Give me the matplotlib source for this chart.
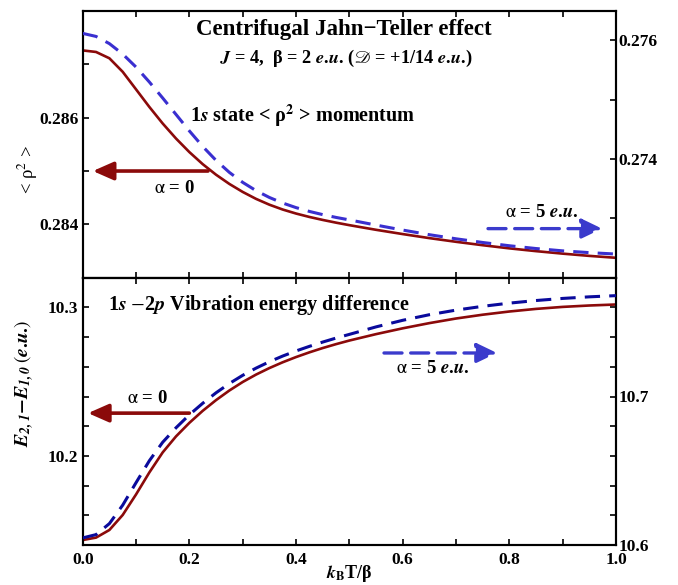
import matplotlib
matplotlib.use("Agg")
import matplotlib.pyplot as plt
import numpy as np

plt.rcParams['font.family'] = ['Liberation Serif', 'DejaVu Serif']
plt.rcParams['mathtext.fontset'] = 'stix'

# ---- data ----
kT = [0.0, 0.025, 0.05, 0.075, 0.1, 0.125, 0.15, 0.175, 0.2, 0.225, 0.25, 0.275,
      0.3, 0.325, 0.35, 0.375, 0.4, 0.425, 0.45, 0.475, 0.5,
      0.55, 0.6, 0.65, 0.7, 0.75, 0.8, 0.85, 0.9, 0.95, 1.0]

rho2_a0 = [0.287261, 0.287232, 0.287114, 0.286860, 0.286531, 0.286201, 0.285891,
           0.285609, 0.285355, 0.285129, 0.284931, 0.284758, 0.284608, 0.284478,
           0.284369, 0.284278, 0.284203, 0.284139, 0.284083, 0.284032, 0.283985,
           0.283898, 0.283818, 0.283742, 0.283673, 0.283609, 0.283550, 0.283498,
           0.283451, 0.283409, 0.283373]
rho2_a5 = [0.276113, 0.276062, 0.275941, 0.275765, 0.275546, 0.275294, 0.275025,
           0.274748, 0.274471, 0.274210, 0.273975, 0.273773, 0.273605, 0.273466,
           0.273351, 0.273257, 0.273180, 0.273116, 0.273062, 0.273015, 0.272973,
           0.272886, 0.272802, 0.272724, 0.272655, 0.272593, 0.272538, 0.272491,
           0.272452, 0.272422, 0.272398]

dE_a0 = [10.143358, 10.144976, 10.150101, 10.160215, 10.174039, 10.188874, 10.202360,
         10.213149, 10.222252, 10.230344, 10.237559, 10.244032, 10.249764, 10.254754,
         10.259137, 10.263048, 10.266554, 10.269723, 10.272623, 10.275253, 10.277680,
         10.281996, 10.285907, 10.289413, 10.292515, 10.295078, 10.297235, 10.298989,
         10.300337, 10.301281, 10.301955]
dE_a5 = [10.604774, 10.606993, 10.614391, 10.626832, 10.641963, 10.656758, 10.669199,
         10.678951, 10.687693, 10.695427, 10.702488, 10.708743, 10.714257, 10.719099,
         10.723403, 10.727236, 10.730666, 10.733760, 10.736651, 10.739341, 10.741830,
         10.746873, 10.751312, 10.755078, 10.758171, 10.760727, 10.762879, 10.764628,
         10.766040, 10.767116, 10.767923]

xticks = [0.0, 0.2, 0.4, 0.6, 0.8, 1.0]
xtick_labels = ['0.0', '0.2', '0.4', '0.6', '0.8', '1.0']
top_left_ticks = [0.284, 0.286]
top_right_ticks = [0.274, 0.276]
bot_left_ticks = [10.2, 10.3]
bot_right_ticks = [10.6, 10.7]

RED = '#8b0a0a'
BLUE_UP = '#3a2fd0'
BLUE_LO = '#0a0a9c'
BLUE_ARR = '#3b3bcc'

W, H = 678, 585
fig = plt.figure(figsize=(W / 100, H / 100), dpi=100)

def fx(px):
    return px / W

def fy(py):
    return 1 - py / H

L, R = 82.7, 616.0
ax1 = fig.add_axes([fx(L), fy(277.7), fx(R) - fx(L), fy(11) - fy(277.7)])
ax2 = fig.add_axes([fx(L), fy(545), fx(R) - fx(L), fy(277.7) - fy(545)])
ax1r = ax1.twinx()
ax2r = ax2.twinx()

ax1.plot(kT, rho2_a0, color=RED, lw=1.9, zorder=3)
ax1r.plot(kT, rho2_a5, color=BLUE_UP, lw=2.2, dashes=(5, 3), zorder=3)
ax2.plot(kT, dE_a0, color=RED, lw=1.9, zorder=3)
ax2r.plot(kT, dE_a5, color=BLUE_LO, lw=2.2, dashes=(5, 3), zorder=3)

for a in (ax1, ax2):
    a.set_xlim(0, 1)
    a.set_xticks(xticks)
    a.set_xticks(np.arange(0, 1.0001, 0.1), minor=True)

ax1.set_ylim(0.283, 0.288)
ax1.set_yticks(top_left_ticks)
ax1.set_yticks([0.283, 0.285, 0.287], minor=True)
ax1.set_yticklabels(['0.284', '0.286'])
ax1r.set_ylim(0.272, 0.27649)
ax1r.set_yticks(top_right_ticks)
ax1r.set_yticks([0.273, 0.275], minor=True)
ax1r.set_yticklabels(['0.274', '0.276'])

ax2.set_ylim(10.14, 10.32)
ax2.set_yticks(bot_left_ticks)
ax2.set_yticks(np.arange(10.14, 10.321, 0.02), minor=True)
ax2.set_yticklabels(['10.2', '10.3'])
ax2r.set_ylim(10.6, 10.78)
ax2r.set_yticks(bot_right_ticks)
ax2r.set_yticks(np.arange(10.6, 10.781, 0.02), minor=True)
ax2r.set_yticklabels(['10.6', '10.7'])

ax2.set_xticklabels(xtick_labels)
ax1.tick_params(axis='x', labelbottom=False)

for a in (ax1, ax2, ax1r, ax2r):
    for s in a.spines.values():
        s.set_linewidth(1.5)
    a.tick_params(which='both', direction='in', length=4.5, width=1.2,
                  top=True, labelsize=12.5, pad=3)
    for lab in a.get_xticklabels() + a.get_yticklabels():
        lab.set_fontweight('bold')
ax1r.tick_params(which='both', pad=2)
ax2r.tick_params(which='both', pad=2)
ax2.tick_params(axis='x', pad=5)

# axis labels
fig.text(fx(28), fy(170), '< ρ$^{2}$ >', rotation=90, ha='center', va='center',
         fontsize=13.5)
fig.text(fx(24), fy(383),
         r'$\mathbfit{E}_{\mathbfit{2,1}}\mathbf{-}\mathbfit{E}_{\mathbfit{1,0}}\,($'
         r'$\mathbfit{e}$.$\mathbfit{u}$.$)$',
         rotation=90, ha='center', va='center', fontsize=14, fontweight='bold')
fig.text(fx(349), fy(573), r'$\mathbfit{k}_{\mathbf{B}}$T/β', ha='center', va='center',
         fontsize=13, fontweight='bold')

# titles
fig.text(fx(344), fy(30), 'Centrifugal Jahn−Teller effect', ha='center', va='center',
         fontsize=16.5, fontweight='bold')
fig.text(fx(346), fy(58),
         r'$\mathbfit{J}$ = 4,  β = 2 $\mathbfit{e}$.$\mathbfit{u}$. ($\mathscr{D}$ = +1/14 '
         r'$\mathbfit{e}$.$\mathbfit{u}$.)',
         ha='center', va='center', fontsize=13.2, fontweight='bold')
fig.text(fx(303), fy(116), r'1$\mathbfit{s}$ state < ρ$^{\mathbf{2}}$ > momentum',
         ha='center', va='center', fontsize=14.5, fontweight='bold')
fig.text(fx(108), fy(305), r'1$\mathbfit{s}$ $-$2$\mathbfit{p}$ Vibration energy difference',
         ha='left', va='center', fontsize=14.5, fontweight='bold')

# annotations with arrows
arrow_solid = dict(arrowstyle='-|>,head_length=1.25,head_width=0.55', color=RED, lw=2.6,
                   shrinkA=0, shrinkB=0)
arrow_dash = dict(arrowstyle='-|>,head_length=1.25,head_width=0.6', color=BLUE_ARR, lw=2.4,
                  linestyle=(0, (5.4, 2.6)), shrinkA=0, shrinkB=0)

lab0 = r'$\mathrm{\alpha}$ = 0'
lab5 = r'$\mathrm{\alpha}$ = 5 $\mathbfit{e}$.$\mathbfit{u}$.'

ax1.annotate('', xy=(0.019, 0.285), xytext=(0.235, 0.285), arrowprops=arrow_solid)
ax1.text(0.173, 0.28468, lab0, ha='center', va='center', fontsize=13.5, fontweight='bold')
ax1.annotate('', xy=(0.974, 0.28392), xytext=(0.76, 0.28392), arrowprops=arrow_dash)
ax1.text(0.861, 0.28423, lab5, ha='center', va='center', fontsize=13.5, fontweight='bold')

ax2.annotate('', xy=(0.01, 10.2288), xytext=(0.20, 10.2288), arrowprops=arrow_solid)
ax2.text(0.122, 10.2385, lab0, ha='center', va='center', fontsize=13.5, fontweight='bold')
ax2.annotate('', xy=(0.777, 10.2693), xytext=(0.565, 10.2693), arrowprops=arrow_dash)
ax2.text(0.657, 10.2590, lab5, ha='center', va='center', fontsize=13.5, fontweight='bold')

fig.savefig('out.png', dpi=100)
